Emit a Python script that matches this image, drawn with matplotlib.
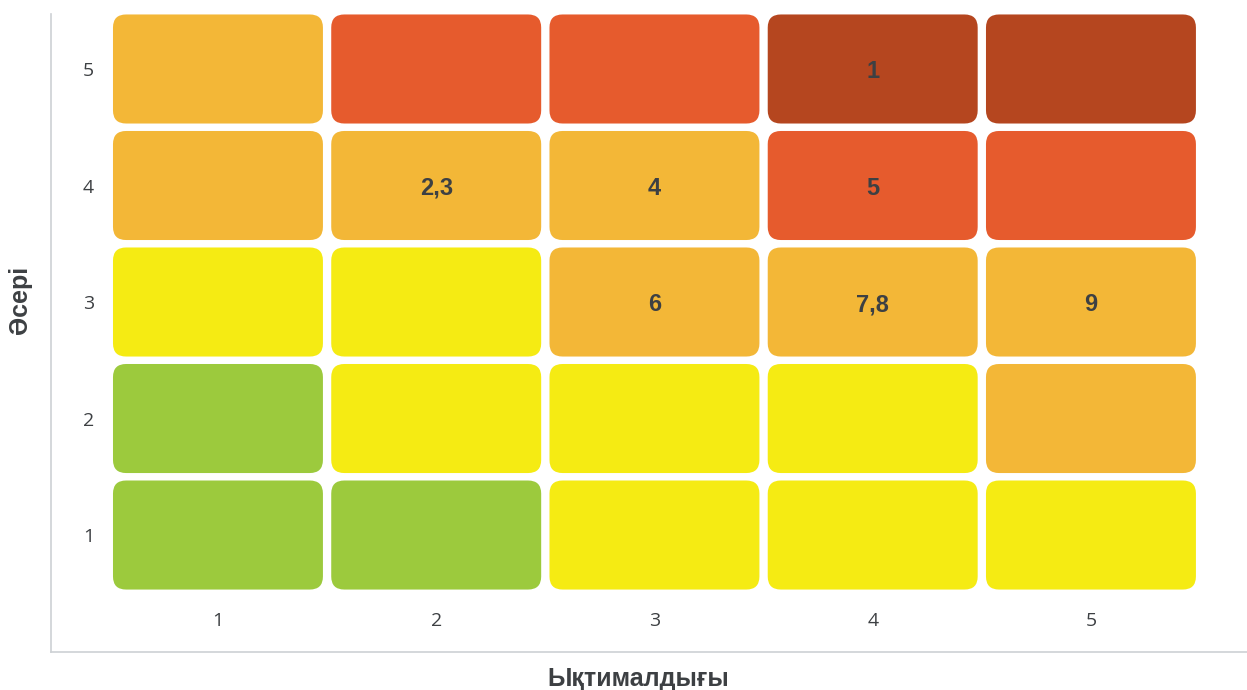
import matplotlib
matplotlib.use("Agg")
import matplotlib.pyplot as plt
from matplotlib.patches import FancyBboxPatch

likelihood = [1, 2, 3, 4, 5]
impact = [1, 2, 3, 4, 5]

# risk level per cell, rows = impact 1..5, cols = likelihood 1..5
levels = [
    [0, 0, 1, 1, 1],
    [0, 1, 1, 1, 2],
    [1, 1, 2, 2, 2],
    [2, 2, 2, 3, 3],
    [2, 3, 3, 4, 4],
]
level_colors = ["#9CCA3D", "#F5EB13", "#F3B737", "#E65B2D", "#B5461F"]

# risk ids placed in cells: (likelihood, impact, text)
risk_ids = [
    (4, 5, "1"),
    (2, 4, "2,3"),
    (3, 4, "4"),
    (4, 4, "5"),
    (3, 3, "6"),
    (4, 3, "7,8"),
    (5, 3, "9"),
]

text_color = "#3D4043"
W, H = 1247, 690
fig = plt.figure(figsize=(W / 100, H / 100), dpi=100)
ax = fig.add_axes([51 / W, (H - 652) / H, (W - 51) / W, (652 - 14) / H])
ax.set_xlim(0.235, 5.715)
ax.set_ylim(-0.004, 5.472)

cw, ch = 0.962, 0.936
for i, imp in enumerate(impact):
    for j, lik in enumerate(likelihood):
        box = FancyBboxPatch((lik - cw / 2, imp - ch / 2), cw, ch,
                             boxstyle="round,pad=0,rounding_size=0.06",
                             mutation_aspect=1.87,
                             facecolor=level_colors[levels[i][j]],
                             edgecolor="none")
        ax.add_patch(box)

for lik, imp, label in risk_ids:
    ax.text(lik, imp, label, ha="center", va="center_baseline", fontsize=17,
            fontweight="bold", color=text_color, family="Liberation Sans")

for s in ["top", "right"]:
    ax.spines[s].set_visible(False)
for s in ["left", "bottom"]:
    ax.spines[s].set_color("#CDD1D4")
    ax.spines[s].set_linewidth(1.2)

ax.set_xticks(likelihood)
ax.set_yticks(impact)
ax.tick_params(axis="both", length=0, labelsize=14, labelcolor=text_color)
ax.tick_params(axis="y", pad=-31)
ax.tick_params(axis="x", pad=-29)
for lab in ax.get_xticklabels() + ax.get_yticklabels():
    lab.set_family("Open Sans")

fig.text(638 / W, 1 - 679 / H, "Ықтималдығы", ha="center", va="center",
         fontsize=18, fontweight="bold", color=text_color, family="Liberation Sans")
fig.text(20 / W, 1 - 300 / H, "Әсері", ha="center", va="center", rotation=90,
         fontsize=18, fontweight="bold", color=text_color, family="Liberation Sans")

fig.savefig("out.png", dpi=100)
